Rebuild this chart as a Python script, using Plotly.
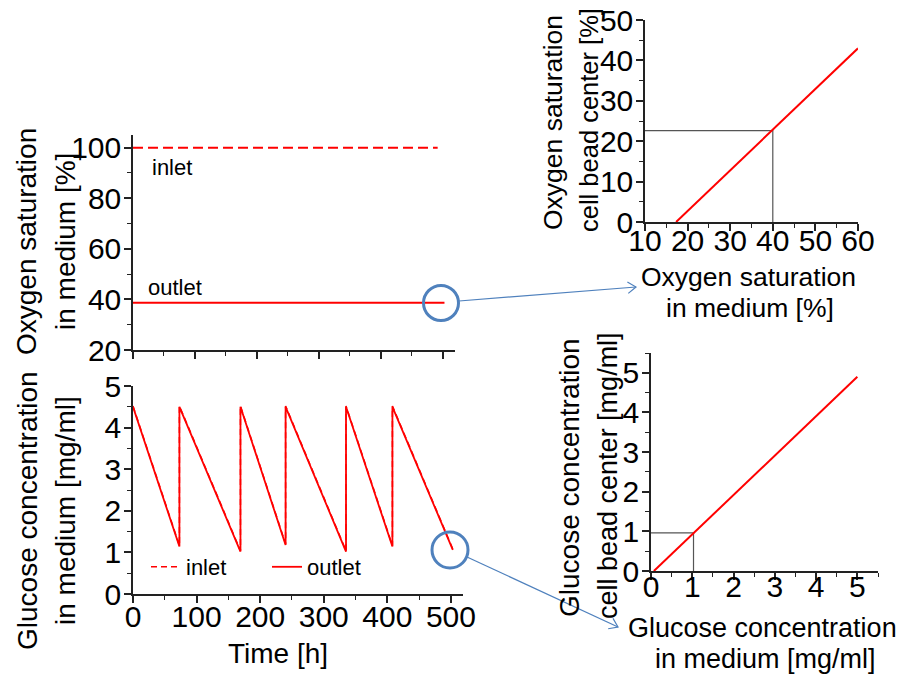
import math
import plotly.graph_objects as go

W, H = 900, 676

# ---------------- data ----------------
oxy_time_inlet = [0, 492]
oxy_inlet = [100, 100]
oxy_time_outlet = [0, 503]
oxy_outlet = [38.7, 38.7]

glc_time = [0, 73, 73, 169, 169, 240, 240, 335, 335, 408, 408, 503]
glc_inlet = [4.52, 1.16, 4.52, 1.04, 4.52, 1.20, 4.52, 1.04, 4.52, 1.16, 4.52, 1.08]
glc_outlet = [4.50, 1.14, 4.50, 1.02, 4.50, 1.18, 4.50, 1.02, 4.50, 1.14, 4.50, 1.06]

oxy_medium = [17.3, 60]
oxy_center = [0, 43]
oxy_mark_x = [10, 40, 40]
oxy_mark_y = [22.6, 22.6, 0]

glc_medium = [0.07, 5.0]
glc_center = [0, 4.9]
glc_mark_x = [0, 1.03, 1.03]
glc_mark_y = [0.96, 0.96, 0]

RED = "#FF0000"
AX = "#222222"
BLUE = "#4F81BD"
FONT = "Arial, Liberation Sans, sans-serif"
TICK = 30


def px(x):
    return x / W


def py(y):
    return 1 - y / H


fig = go.Figure()

# top-left: oxygen vs time
fig.add_trace(go.Scatter(x=oxy_time_inlet, y=oxy_inlet, mode="lines",
                         line=dict(color=RED, width=2, dash="10px,5px"),
                         xaxis="x", yaxis="y", showlegend=False))
fig.add_trace(go.Scatter(x=oxy_time_outlet, y=oxy_outlet, mode="lines",
                         line=dict(color=RED, width=2),
                         xaxis="x", yaxis="y", showlegend=False))
# bottom-left: glucose vs time
fig.add_trace(go.Scatter(x=glc_time, y=glc_inlet, mode="lines", name="inlet",
                         line=dict(color=RED, width=1.5, dash="6px,4px"),
                         xaxis="x2", yaxis="y2"))
fig.add_trace(go.Scatter(x=glc_time, y=glc_outlet, mode="lines", name="outlet",
                         line=dict(color=RED, width=1.8),
                         xaxis="x2", yaxis="y2"))
# top-right
fig.add_trace(go.Scatter(x=oxy_mark_x, y=oxy_mark_y, mode="lines",
                         line=dict(color="#555555", width=1.2),
                         xaxis="x3", yaxis="y3", showlegend=False))
fig.add_trace(go.Scatter(x=oxy_medium, y=oxy_center, mode="lines",
                         line=dict(color=RED, width=2),
                         xaxis="x3", yaxis="y3", showlegend=False))
# bottom-right
fig.add_trace(go.Scatter(x=glc_mark_x, y=glc_mark_y, mode="lines",
                         line=dict(color="#555555", width=1.2),
                         xaxis="x4", yaxis="y4", showlegend=False))
fig.add_trace(go.Scatter(x=glc_medium, y=glc_center, mode="lines",
                         line=dict(color=RED, width=2),
                         xaxis="x4", yaxis="y4", showlegend=False))


def axis(domain, rng, dtick, minor, labels=True, anchor=None, tick0=None, standoff=0):
    d = dict(domain=domain, range=rng, dtick=dtick, showline=True,
             linecolor=AX, linewidth=1.5, ticks="outside", ticklen=7,
             tickwidth=1.5, tickcolor=AX, showgrid=False, zeroline=False,
             showticklabels=labels, tickfont=dict(size=TICK, color="#000"),
             minor=dict(ticks="outside", ticklen=4, tickwidth=1.2,
                        tickcolor=AX, dtick=minor, showgrid=False),
             ticklabelstandoff=standoff, ticklabeloverflow="allow",
             automargin=False, fixedrange=True)
    if anchor:
        d["anchor"] = anchor
    if tick0 is not None:
        d["tick0"] = tick0
    return d


fig.update_layout(
    width=W, height=H,
    margin=dict(l=0, r=0, t=0, b=0, autoexpand=False),
    paper_bgcolor="white", plot_bgcolor="white",
    font=dict(family=FONT, color="#000"),
    xaxis=axis([px(133), px(455)], [0, 520], 100, 50, labels=False, anchor="y"),
    yaxis=axis([py(350), py(135)], [20, 105], 20, 10, anchor="x", tick0=20, standoff=-3),
    xaxis2=axis([px(133), px(463)], [0, 519], 100, 50, anchor="y2", standoff=-12),
    yaxis2=axis([py(594), py(386)], [0, 5], 1, 0.5, anchor="x2", standoff=-3),
    xaxis3=axis([px(645), px(858)], [10, 60], 10, 5, anchor="y3", standoff=-16),
    yaxis3=axis([py(222), py(20)], [0, 50], 10, 5, anchor="x3", standoff=-3),
    xaxis4=axis([px(651), px(878)], [0, 5.5], 1, 0.5, anchor="y4", standoff=-19),
    yaxis4=axis([py(571), py(353)], [0, 5.5], 1, 0.5, anchor="x4", standoff=-3),
    legend=dict(orientation="h", x=px(146), y=py(567), xanchor="left",
                yanchor="middle", font=dict(size=22), bgcolor="rgba(0,0,0,0)",
                entrywidth=76),
)

# text labels
ann = []


def text(t, x, y, size, angle=0):
    ann.append(dict(text=t, x=px(x), y=py(y), xref="paper", yref="paper",
                    xanchor="center", yanchor="middle", showarrow=False,
                    textangle=angle, font=dict(size=size, family=FONT, color="#000")))


text("inlet", 172, 168, 22)
text("outlet", 175, 288, 22)
# y titles
text("Oxygen saturation", 27, 242, 28, -90)
text("in medium [%]", 66, 242, 28, -90)
text("Glucose concentration", 27, 511, 28, -90)
text("in medium [mg/ml]", 65, 511, 28, -90)
text("Oxygen saturation", 553, 123, 26.5, -90)
text("cell bead center [%]", 589, 120, 25.5, -90)
text("Glucose concentration", 570, 478, 28, -90)
text("cell bead center [mg/ml]", 608, 476, 27, -90)
# x titles
text("Time [h]", 278, 653, 28)
text("Oxygen saturation", 748, 277, 26.5)
text("in medium [%]", 750, 308, 26.5)
text("Glucose concentration", 762, 628, 27)
text("in medium [mg/ml]", 765, 659, 27)
fig.update_layout(annotations=ann)

# circles and arrows (decoration)
shapes = []


def circle(cx, cy, r):
    shapes.append(dict(type="circle", xref="paper", yref="paper",
                       x0=px(cx - r), x1=px(cx + r), y0=py(cy + r), y1=py(cy - r),
                       line=dict(color=BLUE, width=3)))


def arrow(x0, y0, x1, y1):
    shapes.append(dict(type="line", xref="paper", yref="paper",
                       x0=px(x0), y0=py(y0), x1=px(x1), y1=py(y1),
                       line=dict(color=BLUE, width=1.2)))
    ang = math.atan2(y1 - y0, x1 - x0)
    L, a = 10, math.radians(35)
    p1 = (x1 - L * math.cos(ang - a), y1 - L * math.sin(ang - a))
    p2 = (x1 - L * math.cos(ang + a), y1 - L * math.sin(ang + a))
    path = "M {} {} L {} {} L {} {}".format(px(p1[0]), py(p1[1]), px(x1), py(y1),
                                            px(p2[0]), py(p2[1]))
    shapes.append(dict(type="path", xref="paper", yref="paper", path=path,
                       line=dict(color=BLUE, width=1.2)))


circle(441, 303, 17.5)
circle(450, 550, 18)
arrow(459, 301, 636, 287)
arrow(467, 557, 618, 627)
fig.update_layout(shapes=shapes)

# remove the default 8px page margin so the figure fills the window exactly
fig.write_html("out.html", config={"displayModeBar": False},
               post_script="document.body.style.margin='0';")
